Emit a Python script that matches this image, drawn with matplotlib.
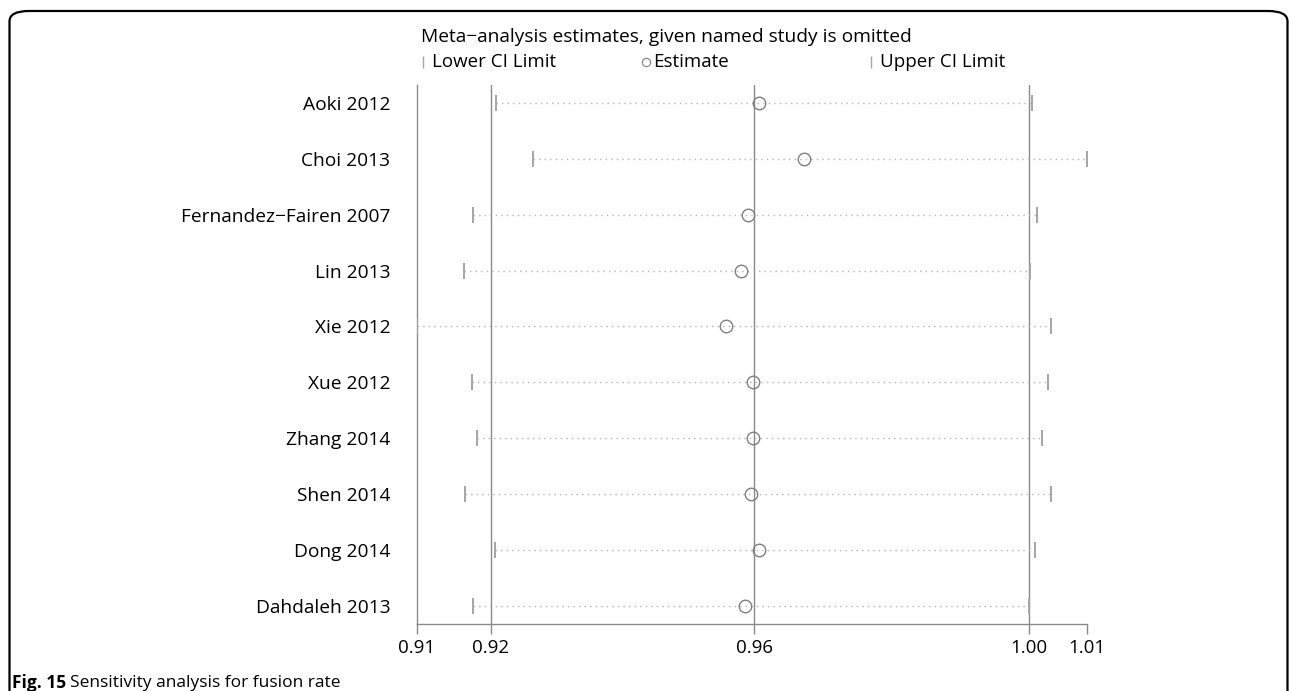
import matplotlib
matplotlib.use("Agg")
import matplotlib.pyplot as plt
from matplotlib.lines import Line2D
from matplotlib.patches import FancyBboxPatch
from matplotlib.ticker import FixedLocator, FormatStrFormatter

plt.rcParams['font.family'] = ['Open Sans', 'DejaVu Sans']

# leave-one-out estimates
studies = ["Aoki 2012", "Choi 2013", "Fernandez\u2212Fairen 2007", "Lin 2013", "Xie 2012",
           "Xue 2012", "Zhang 2014", "Shen 2014", "Dong 2014", "Dahdaleh 2013"]
est   = [0.9607, 0.9675, 0.9591, 0.9581, 0.9558, 0.9599, 0.9599, 0.9596, 0.9608, 0.9587]
lower = [0.9213, 0.9268, 0.9178, 0.9165, 0.9094, 0.9177, 0.9184, 0.9166, 0.9211, 0.9179]
upper = [1.0017, 1.0099, 1.0024, 1.0014, 1.0045, 1.0041, 1.0032, 1.0045, 1.0022, 1.0012]

# pooled estimate with all studies
pooled_lo, pooled_est, pooled_hi = 0.9205, 0.9600, 1.0012

W, H = 1290, 691
fig = plt.figure(figsize=(W / 100, H / 100), dpi=100)
ax = fig.add_axes([416.7 / W, 1 - 624 / H, 670 / W, 539 / H])

grey = '#8a8a8a'
rows = list(range(1, len(studies) + 1))

for x in (pooled_lo, pooled_est, pooled_hi):
    ax.axvline(x, color=grey, lw=1, zorder=1)

ax.hlines(rows, lower, upper, colors='#b5b5b5', linestyles=(0, (1, 3)), lw=1, zorder=2)
ax.plot(lower, rows, ls='none', marker='|', ms=11, mew=1.4, color='#a5a5a5', zorder=3)
ax.plot(upper, rows, ls='none', marker='|', ms=11, mew=1.4, color='#a5a5a5', zorder=3)
ax.plot(est, rows, ls='none', marker='o', ms=9, mfc='none', mec='#808080', mew=1, zorder=4)

ax.set_xlim(min(lower), max(upper))
ax.set_ylim(len(studies) + 0.328, 0.678)
ax.xaxis.set_major_locator(FixedLocator([min(lower), pooled_lo, pooled_est, pooled_hi, max(upper)]))
ax.xaxis.set_major_formatter(FormatStrFormatter('%.2f'))
ax.set_yticks(rows)
ax.set_yticklabels(studies)
ax.tick_params(axis='x', length=7.5, width=1, color=grey, pad=3.5, labelsize=13.5)
ax.tick_params(axis='y', length=0, pad=19, labelsize=13.8)
for s in ('top', 'right'):
    ax.spines[s].set_visible(False)
for s in ('left', 'bottom'):
    ax.spines[s].set_color(grey)
    ax.spines[s].set_linewidth(1)

# header and legend
fig.text(421 / W, 1 - 37 / H, "Meta\u2212analysis estimates, given named study is omitted",
         fontsize=13.8, va='center', ha='left')
ly = 1 - 62 / H
fig.add_artist(Line2D([423 / W], [ly], transform=fig.transFigure, marker='|', ms=9,
                      mew=1, color='#a5a5a5', ls='none'))
fig.text(432 / W, ly, "Lower CI Limit", fontsize=13.5, va='center')
fig.add_artist(Line2D([646 / W], [ly], transform=fig.transFigure, marker='o', ms=6,
                      mfc='none', mec='#808080', mew=0.8, ls='none'))
fig.text(653 / W, ly, "Estimate", fontsize=13.5, va='center')
fig.add_artist(Line2D([871 / W], [ly], transform=fig.transFigure, marker='|', ms=9,
                      mew=1, color='#a5a5a5', ls='none'))
fig.text(880 / W, ly, "Upper CI Limit", fontsize=13.5, va='center')

# rounded frame, open at the bottom
frame = FancyBboxPatch((9.5 / W, -0.2), (1287.5 - 9.5) / W, 1.2 - 11 / H,
                       boxstyle="round,pad=0,rounding_size=0.015",
                       transform=fig.transFigure, fill=False, ec='black', lw=1.6)
fig.add_artist(frame)

# caption
cap_y = 1 - 683 / H
t1 = fig.text(12 / W, cap_y, "Fig. 15", fontsize=12.5, fontweight='bold', va='center')
fig.canvas.draw()
bb = t1.get_window_extent(fig.canvas.get_renderer())
fig.text((bb.x1 + 4) / W, cap_y, "Sensitivity analysis for fusion rate", fontsize=12.5, va='center')

fig.savefig("out.png", dpi=100)
